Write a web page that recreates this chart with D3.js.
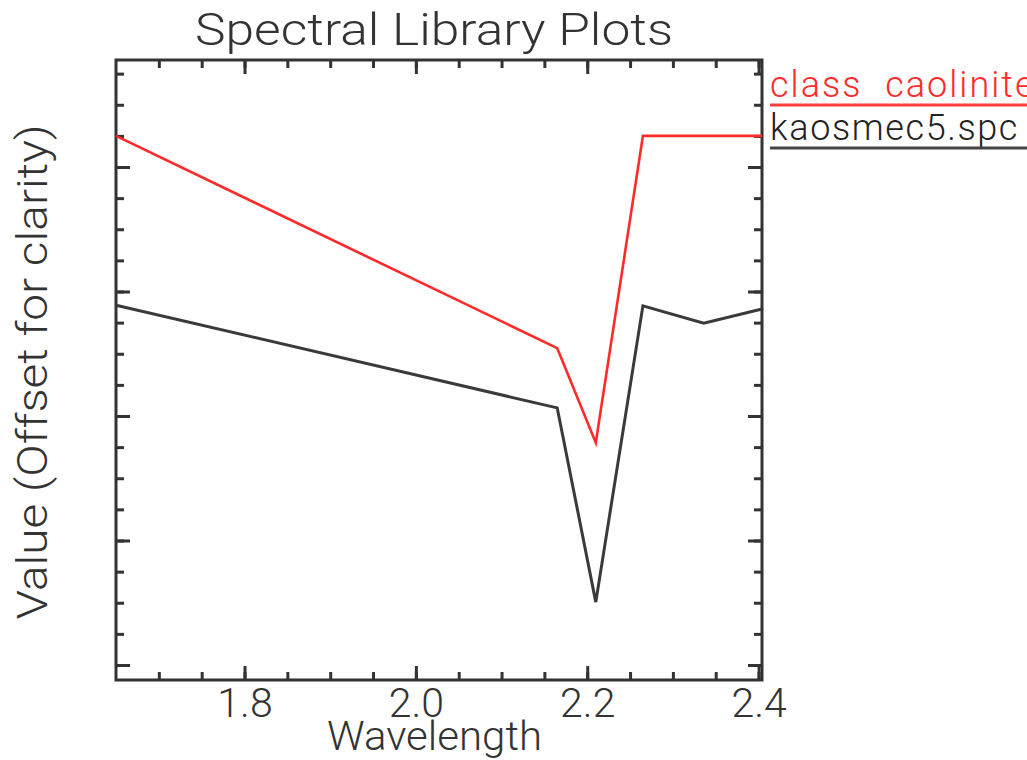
<!DOCTYPE html>
<html>
<head>
<meta charset="utf-8">
<script src="https://cdn.jsdelivr.net/npm/d3@7"></script>
<style>
  html, body { margin: 0; padding: 0; background: #fff; }
  svg { display: block; overflow: hidden; }
  text { font-family: Roboto, "DejaVu Sans", sans-serif; font-weight: 300; fill: #333; }
</style>
</head>
<body>
<svg id="chart" width="1027" height="760"></svg>
<script>
// Band centres (micrometres) shared by both spectra
const wavelengths = [1.650, 2.165, 2.210, 2.265, 2.336, 2.404];

// Spectra, offset vertically for clarity
const classCaolinite = [1.050, 0.709, 0.557, 1.050, 1.050, 1.050];
const kaosmec5 = [0.778, 0.613, 0.301, 0.777, 0.749, 0.772];

const seriesNames = ["class caolinite", "kaosmec5.spc"];
const seriesColors = ["#ff2a2a", "#3a3a3a"];

// Axis ranges and tick values
const xRange = [1.65, 2.404];
const yRange = [0.1759, 1.1719];
const xMajorTicks = [1.8, 2.0, 2.2, 2.4];
const xMinorTicks = d3.range(34, 49).map(i => i * 0.05);
const yMajorTicks = [0.2, 0.4, 0.6, 0.8, 1.0];
const yMinorTicks = d3.range(4, 24).map(i => i * 0.05);

const svg = d3.select("#chart");
const plot = { left: 116, right: 762, top: 60, bottom: 680 };

const x = d3.scaleLinear().domain(xRange).range([plot.left, plot.right]);
const y = d3.scaleLinear().domain(yRange).range([plot.bottom, plot.top]);

// Title
svg.append("text")
  .attr("x", 434).attr("y", 45)
  .attr("text-anchor", "middle")
  .attr("font-size", 45)
  .attr("textLength", 478).attr("lengthAdjust", "spacingAndGlyphs")
  .text("Spectral Library Plots");

// Inward-pointing ticks on all four sides (minor, then major)
function styleAxis(g) {
  g.select(".domain").remove();
  g.selectAll(".tick line").attr("stroke", "#333").attr("stroke-width", 3);
}

svg.append("g").attr("transform", `translate(0,${plot.bottom})`)
  .call(d3.axisBottom(x).tickValues(xMinorTicks).tickSize(-8).tickFormat(""))
  .call(styleAxis);
const xAxis = svg.append("g").attr("transform", `translate(0,${plot.bottom})`)
  .call(d3.axisBottom(x).tickValues(xMajorTicks).tickSize(-14).tickPadding(8).tickFormat(d3.format(".1f")))
  .call(styleAxis);
xAxis.selectAll("text").attr("font-size", 41).attr("font-family", null).attr("fill", "#333");

svg.append("g").attr("transform", `translate(0,${plot.top})`)
  .call(d3.axisTop(x).tickValues(xMinorTicks).tickSize(-8).tickFormat(""))
  .call(styleAxis);
svg.append("g").attr("transform", `translate(0,${plot.top})`)
  .call(d3.axisTop(x).tickValues(xMajorTicks).tickSize(-14).tickFormat(""))
  .call(styleAxis);

svg.append("g").attr("transform", `translate(${plot.left},0)`)
  .call(d3.axisLeft(y).tickValues(yMinorTicks).tickSize(-8).tickFormat(""))
  .call(styleAxis);
svg.append("g").attr("transform", `translate(${plot.left},0)`)
  .call(d3.axisLeft(y).tickValues(yMajorTicks).tickSize(-14).tickFormat(""))
  .call(styleAxis);

svg.append("g").attr("transform", `translate(${plot.right},0)`)
  .call(d3.axisRight(y).tickValues(yMinorTicks).tickSize(-8).tickFormat(""))
  .call(styleAxis);
svg.append("g").attr("transform", `translate(${plot.right},0)`)
  .call(d3.axisRight(y).tickValues(yMajorTicks).tickSize(-14).tickFormat(""))
  .call(styleAxis);

// Plot frame
svg.append("rect")
  .attr("x", plot.left).attr("y", plot.top)
  .attr("width", plot.right - plot.left).attr("height", plot.bottom - plot.top)
  .attr("fill", "none").attr("stroke", "#333").attr("stroke-width", 3);

// Axis titles
svg.append("text")
  .attr("x", 434.5).attr("y", 750)
  .attr("text-anchor", "middle")
  .attr("font-size", 40)
  .attr("textLength", 215).attr("lengthAdjust", "spacingAndGlyphs")
  .text("Wavelength");

svg.append("text")
  .attr("transform", "translate(47,372) rotate(-90)")
  .attr("text-anchor", "middle")
  .attr("font-size", 42)
  .attr("textLength", 495).attr("lengthAdjust", "spacingAndGlyphs")
  .text("Value (Offset for clarity)");

// Spectra
const line = d3.line().x(d => x(d[0])).y(d => y(d[1]));
const spectra = [classCaolinite, kaosmec5];
spectra.forEach((vals, i) => {
  svg.append("path")
    .datum(wavelengths.map((w, k) => [w, vals[k]]))
    .attr("d", line)
    .attr("fill", "none")
    .attr("stroke", seriesColors[i])
    .attr("stroke-width", i === 0 ? 2.6 : 3)
    .attr("stroke-linejoin", "miter");
});

// Legend: name with an underline in the series colour
const legend = svg.append("g").attr("transform", "translate(770,0)");
seriesNames.forEach((name, i) => {
  const base = 97 + i * 43;
  legend.append("text")
    .attr("x", 0).attr("y", base)
    .attr("font-size", 36)
    .attr("letter-spacing", i === 0 ? 2 : 1.6)
    .attr("word-spacing", 12)
    .style("fill", i === 0 ? "#ff2a2a" : "#222")
    .text(name);
  legend.append("line")
    .attr("x1", 0).attr("x2", 270)
    .attr("y1", base + 8).attr("y2", base + 8)
    .attr("stroke", i === 0 ? "#ff3c3c" : "#444")
    .attr("stroke-width", 3);
});
</script>
</body>
</html>
